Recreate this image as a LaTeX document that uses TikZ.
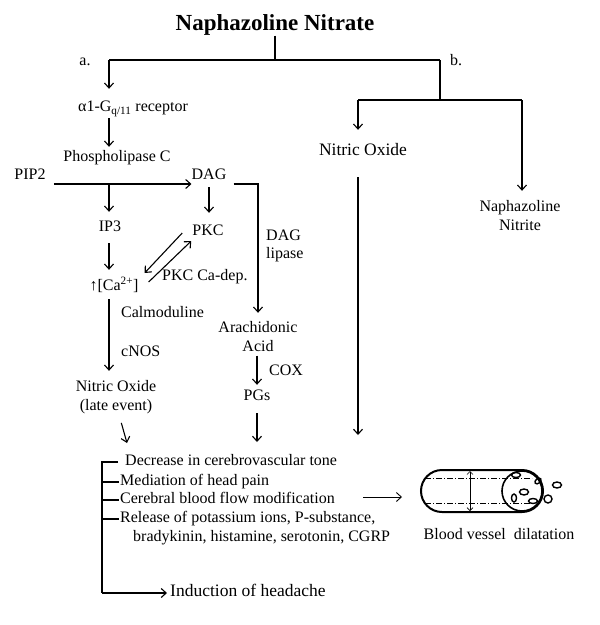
\documentclass[tikz,border=0pt]{standalone}
\usepackage{fontspec}
\setmainfont{Liberation Serif}
\usetikzlibrary{arrows.meta}
\begin{document}
\begin{tikzpicture}[x=1pt,y=-1pt,
  lbl/.style={inner sep=0pt, text height=11pt, text depth=4pt, font=\fontsize{16}{19}\selectfont},
  ln/.style={line width=1.1pt},
  arr/.style={ln, -{Straight Barb[length=5pt,width=9pt]}},
  cell/.style={line width=1.4pt},
]
\useasboundingbox (0,0) rectangle (600,625);

% ---------- nodes ----------
\node[lbl, font=\bfseries\fontsize{23}{26}\selectfont, text height=16pt, text depth=5pt] (title) at (275,25) {Naphazoline Nitrate};
\node[lbl] (la) at (85,62) {a.};
\node[lbl] (lb) at (456,62) {b.};

\node[lbl] (rec) at (133,108) {α1-G\textsubscript{q/11} receptor};
\node[lbl] (plc) at (117,158) {Phospholipase C};
\node[lbl] (pip2) at (30,176) {PIP2};
\node[lbl] (dag) at (209,176) {DAG};
\node[lbl] (ip3) at (110,228) {IP3};
\node[lbl] (pkc) at (208,232) {PKC};
\node[lbl] (ca) at (114,287) {↑[Ca\textsuperscript{2+}]};
\node[lbl, anchor=west] (pkcdep) at (162,277) {PKC Ca-dep.};
\node[lbl, anchor=west] (dl1) at (266,237) {DAG};
\node[lbl, anchor=west] (dl2) at (266,255) {lipase};
\node[lbl, anchor=west] (calm) at (121,314) {Calmoduline};
\node[lbl, anchor=west] (cnos) at (121,353) {cNOS};
\node[lbl] (noa) at (116,388) {Nitric Oxide};
\node[lbl] (nob) at (116,407) {(late event)};
\node[lbl] (ar1) at (258,329) {Arachidonic};
\node[lbl] (ar2) at (258,348) {Acid};
\node[lbl, anchor=west] (cox) at (269,372) {COX};
\node[lbl] (pgs) at (257,397) {PGs};

\node[lbl, font=\fontsize{17.5}{20}\selectfont] (no2) at (363,152) {Nitric Oxide};
\node[lbl] (nap1) at (520,208) {Naphazoline};
\node[lbl] (nap2) at (520,227) {Nitrite};

\node[lbl, anchor=west] (e1) at (125,462) {Decrease in cerebrovascular tone};
\node[lbl, anchor=west] (e2) at (120,482) {Mediation of head pain};
\node[lbl, anchor=west] (e3) at (120,500) {Cerebral blood flow modification};
\node[lbl, anchor=west] (e4) at (120,519) {Release of potassium ions, P-substance,};
\node[lbl, anchor=west] (e5) at (133,538) {bradykinin, histamine, serotonin, CGRP};
\node[lbl, anchor=west, font=\fontsize{17.5}{20}\selectfont] (ind) at (170,593) {Induction of headache};

\node[lbl] (vlab) at (499,536) {Blood vessel\ \ dilatation};

% ---------- coordinates ----------
\coordinate (j0) at (275,60);
\coordinate (jl) at (109,60);
\coordinate (jr) at (440,60);
\coordinate (jr2) at (440,100);
\coordinate (jno) at (358,100);
\coordinate (jna) at (522,100);
\coordinate (s1) at (109,184);
\coordinate (dlc) at (258,184);
\coordinate (t1) at (127,443);
\coordinate (t2) at (257,442);
\coordinate (t3) at (358,435);
\coordinate (bt) at (102,462);
\coordinate (bb) at (102,593);

% ---------- top tree ----------
\draw[ln] (title.south) -- (j0);
\draw[ln] (jl) -- (jr);
\draw[arr, shorten >=11.5pt] (jl) -- (jl |- rec.north);
\draw[ln] (jr) -- (jr2);
\draw[ln] (jno) -- (jna);
\draw[arr, shorten >=14.5pt] (jno) -- (jno |- no2.north);
\draw[arr, shorten >=9.5pt] (jna) -- (jna |- nap1.north);

% ---------- left pathway ----------
\draw[arr, shorten <=2.5pt, shorten >=3.5pt] (jl |- rec.south) -- (jl |- plc.north);
\draw[arr, shorten <=8pt] ([yshift=-8pt]pip2.east) -- ([yshift=-8pt]dag.west);
\draw[arr, shorten >=8.5pt] (s1) -- (s1 |- ip3.north);
\draw[arr, shorten <=3.5pt, shorten >=11.5pt] (dag.south) -- (dag.south |- pkc.north);
\draw[arr, shorten >=8.5pt] ([xshift=7pt,yshift=-8pt]dag.east) -- (dlc) -- (dlc |- ar1.north);
\draw[arr, shorten <=7.5pt, shorten >=9.5pt] (s1 |- ip3.south) -- (s1 |- ca.north);
\draw[arr] ([xshift=-10pt,yshift=-1pt]pkc.west) -- ([xshift=6pt,yshift=14pt]ca.east);
\draw[arr] ([xshift=10pt,yshift=5pt]ca.east) -- ([xshift=-1pt,yshift=-9pt]pkc.west);
\draw[arr, shorten <=4.5pt, shorten >=9.5pt] (s1 |- ca.south) -- (s1 |- noa.north);
\draw[arr, shorten <=8.5pt] ([xshift=3pt]nob.south) -- (t1);
\draw[arr, shorten >=4.5pt] (ar2.south -| t2) -- (t2 |- pgs.north);
\draw[arr, shorten <=8.5pt] (pgs.south -| t2) -- (t2);

% ---------- right NO ----------
\draw[arr, shorten <=17.5pt] (no2.south -| jno) -- (t3);

% ---------- effects bracket ----------
\draw[ln] ([xshift=-7pt]e1.west) -- (bt) -- (bb);
\draw[arr, shorten >=3pt] (bb) -- (ind.west);
\draw[ln] (bt |- e2.west) -- ([xshift=-1pt]e2.west);
\draw[ln] (bt |- e3.west) -- ([xshift=-1pt]e3.west);
\draw[ln] (bt |- e4.west) -- ([xshift=-1pt]e4.west);

% ---------- blood vessel ----------
\node[draw, line width=2pt, rounded corners=21pt, minimum width=122pt, minimum height=42pt, inner sep=0pt] (vessel) at (482,491) {};
\draw[arr, line width=0.9pt, shorten <=28pt, shorten >=18pt] ([yshift=3pt]e3.east) -- ([yshift=-6pt]vessel.west);
\draw[line width=1.6pt] (522,491) circle[radius=20];
\draw[line width=0.6pt, dash pattern=on 6pt off 2pt on 1pt off 2pt] (425,478) -- (532,478);
\draw[line width=0.6pt, dash pattern=on 6pt off 2pt on 1pt off 2pt] (425,503) -- (532,503);
\draw[line width=0.7pt, {Straight Barb[length=3pt,width=6pt]}-{Straight Barb[length=3pt,width=6pt]}] (470,471) -- (470,511);
\draw[cell] (516,475) ellipse[x radius=4.5, y radius=2.5];
\draw[cell, rotate around={40:(538,481)}] (538,481) ellipse[x radius=3.5, y radius=2.3];
\draw[cell] (557,485) ellipse[x radius=4.5, y radius=3];
\draw[cell] (524,492) ellipse[x radius=4.5, y radius=3];
\draw[cell] (514,498) ellipse[x radius=2.5, y radius=4];
\draw[cell] (533,501) ellipse[x radius=4.5, y radius=2.5];
\draw[cell] (548,499) ellipse[x radius=4, y radius=4];
\end{tikzpicture}
\end{document}
